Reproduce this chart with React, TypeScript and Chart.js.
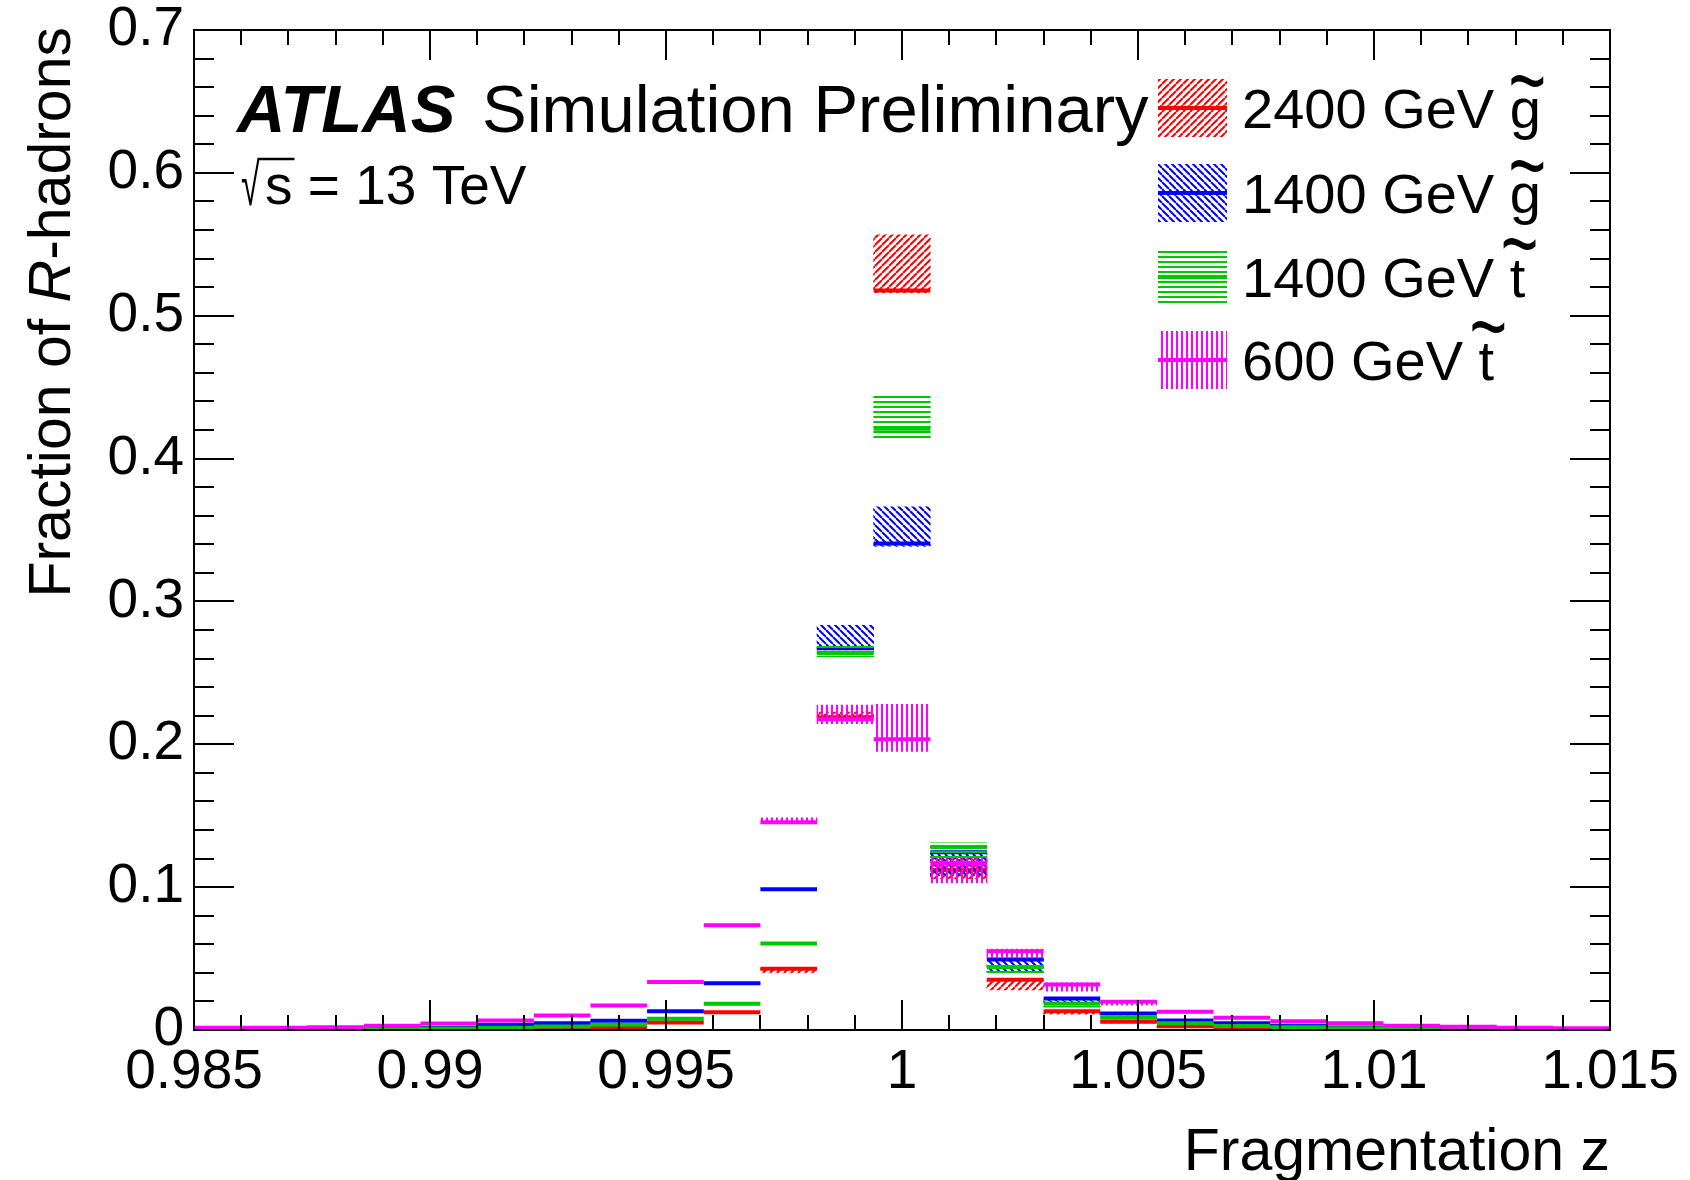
import React, { useEffect, useRef } from "react";
import { Chart, registerables } from "chart.js";

Chart.register(...registerables);

const FONT = "'Liberation Sans', Arial, Helvetica, sans-serif";

// ---- data ----
const BIN_EDGES = [
  0.985, 0.9862, 0.9874, 0.9886, 0.9898, 0.991, 0.9922, 0.9934, 0.9946, 0.9958,
  0.997, 0.9982, 0.9994, 1.0006, 1.0018, 1.003, 1.0042, 1.0054, 1.0066, 1.0078,
  1.009, 1.0102, 1.0114, 1.0126, 1.0138, 1.015,
];

const X_TICKS = [0.985, 0.99, 0.995, 1, 1.005, 1.01, 1.015];
const X_TICK_LABELS = ["0.985", "0.99", "0.995", "1", "1.005", "1.01", "1.015"];
const Y_TICKS = [0, 0.1, 0.2, 0.3, 0.4, 0.5, 0.6, 0.7];
const Y_TICK_LABELS = ["0", "0.1", "0.2", "0.3", "0.4", "0.5", "0.6", "0.7"];

const X_TITLE = "Fragmentation z";
const Y_TITLE_PARTS = [
  { text: "Fraction of ", italic: false },
  { text: "R", italic: true },
  { text: "-hadrons", italic: false },
];
const ATLAS_LABEL = "ATLAS";
const ATLAS_SUFFIX = "Simulation Preliminary";
const SQRT_SIGN = "\u221A";
const ENERGY_TEXT = "s = 13 TeV";

const SERIES_LABELS = ["2400 GeV g\u0303", "1400 GeV g\u0303", "1400 GeV t\u0303", "600 GeV t\u0303"];
const SERIES_COLORS = ["#ff0000", "#0000ff", "#00c800", "#ff00ff"];
const SERIES_HATCH = ["fwd", "back", "horiz", "vert"];

const GLUINO_2400 = [0.0001, 0.0001, 0.0001, 0.0002, 0.0003, 0.0005, 0.0008, 0.0019, 0.0052, 0.0124, 0.0428, 0.219, 0.5176, 0.112, 0.0351, 0.0131, 0.0057, 0.0026, 0.001, 0.0005, 0.0003, 0.0002, 0.0001, 0.0001, 0.0001];
const GLUINO_2400_LO = [0.0001, 0.0001, 0.0001, 0.0002, 0.0003, 0.0005, 0.0008, 0.0017, 0.0048, 0.0115, 0.04, 0.218, 0.5162, 0.106, 0.028, 0.011, 0.005, 0.0022, 0.0008, 0.0004, 0.0003, 0.0002, 0.0001, 0.0001, 0.0001];
const GLUINO_2400_HI = [0.0001, 0.0001, 0.0001, 0.0002, 0.0003, 0.0005, 0.0008, 0.0019, 0.0052, 0.0124, 0.0428, 0.2225, 0.5566, 0.121, 0.0353, 0.0131, 0.0057, 0.0026, 0.001, 0.0005, 0.0003, 0.0002, 0.0001, 0.0001, 0.0001];

const GLUINO_1400 = [0.0002, 0.0003, 0.0005, 0.0008, 0.0015, 0.0036, 0.0047, 0.0064, 0.0131, 0.0327, 0.0985, 0.2672, 0.3405, 0.1244, 0.0493, 0.022, 0.0115, 0.0066, 0.0048, 0.003, 0.0018, 0.001, 0.0006, 0.0004, 0.0002];
const GLUINO_1400_LO = [0.0002, 0.0003, 0.0005, 0.0008, 0.0015, 0.0036, 0.0047, 0.0064, 0.0131, 0.0327, 0.0985, 0.266, 0.3385, 0.108, 0.041, 0.0195, 0.0105, 0.0066, 0.0048, 0.003, 0.0018, 0.001, 0.0006, 0.0004, 0.0002];
const GLUINO_1400_HI = [0.0002, 0.0003, 0.0005, 0.0008, 0.0015, 0.0036, 0.0047, 0.0064, 0.0131, 0.0327, 0.0985, 0.2833, 0.3662, 0.125, 0.0497, 0.022, 0.0115, 0.0066, 0.0048, 0.003, 0.0018, 0.001, 0.0006, 0.0004, 0.0002];

const STOP_1400 = [0.0003, 0.0003, 0.0004, 0.0006, 0.001, 0.0015, 0.0024, 0.0036, 0.0078, 0.0183, 0.0605, 0.2637, 0.4209, 0.1281, 0.0441, 0.0183, 0.0085, 0.0047, 0.0028, 0.002, 0.0013, 0.0007, 0.0005, 0.0003, 0.0002];
const STOP_1400_LO = [0.0003, 0.0003, 0.0004, 0.0006, 0.001, 0.0015, 0.0024, 0.0036, 0.0078, 0.0183, 0.0605, 0.2614, 0.4129, 0.117, 0.0396, 0.016, 0.0085, 0.0047, 0.0028, 0.002, 0.0013, 0.0007, 0.0005, 0.0003, 0.0002];
const STOP_1400_HI = [0.0003, 0.0003, 0.0004, 0.0006, 0.001, 0.0015, 0.0024, 0.0036, 0.0078, 0.0183, 0.0605, 0.269, 0.4455, 0.131, 0.046, 0.0195, 0.0085, 0.0047, 0.0028, 0.002, 0.0013, 0.0007, 0.0005, 0.0003, 0.0002];

const STOP_600 = [0.0015, 0.0015, 0.0019, 0.0029, 0.0045, 0.0066, 0.0101, 0.0172, 0.0336, 0.0733, 0.1454, 0.2175, 0.2035, 0.1165, 0.0551, 0.0318, 0.0197, 0.0127, 0.0086, 0.0062, 0.0047, 0.0029, 0.0022, 0.0015, 0.0012];
const STOP_600_LO = [0.0015, 0.0015, 0.0019, 0.0029, 0.0045, 0.0066, 0.0101, 0.0172, 0.0336, 0.0733, 0.145, 0.2144, 0.195, 0.103, 0.0504, 0.0271, 0.0173, 0.012, 0.008, 0.0062, 0.0047, 0.0029, 0.0022, 0.0015, 0.0012];
const STOP_600_HI = [0.0015, 0.0015, 0.0019, 0.0029, 0.0045, 0.0066, 0.0101, 0.0172, 0.0336, 0.0733, 0.1485, 0.2275, 0.228, 0.12, 0.0567, 0.033, 0.0205, 0.013, 0.0088, 0.0062, 0.0047, 0.0029, 0.0022, 0.0015, 0.0012];

const SERIES_VALUES = [GLUINO_2400, GLUINO_1400, STOP_1400, STOP_600];
const SERIES_LO = [GLUINO_2400_LO, GLUINO_1400_LO, STOP_1400_LO, STOP_600_LO];
const SERIES_HI = [GLUINO_2400_HI, GLUINO_1400_HI, STOP_1400_HI, STOP_600_HI];

// ---- helpers ----
function makeHatch(kind: string, color: string): CanvasPattern {
  const c = document.createElement("canvas");
  const s = kind === "horiz" || kind === "vert" ? 5 : 7;
  c.width = s;
  c.height = s;
  const g = c.getContext("2d")!;
  g.strokeStyle = color;
  g.lineWidth = 2;
  g.beginPath();
  if (kind === "horiz") {
    g.moveTo(0, 2);
    g.lineTo(s, 2);
  } else if (kind === "vert") {
    g.moveTo(2, 0);
    g.lineTo(2, s);
  } else if (kind === "fwd") {
    for (const x0 of [-s, 0, s]) {
      g.moveTo(x0, s);
      g.lineTo(x0 + s, 0);
    }
  } else {
    for (const x0 of [-s, 0, s]) {
      g.moveTo(x0, 0);
      g.lineTo(x0 + s, s);
    }
  }
  g.stroke();
  const ctx = document.createElement("canvas").getContext("2d")!;
  return ctx.createPattern(c, "repeat")!;
}

function drawTildeLabel(ctx: CanvasRenderingContext2D, label: string, x: number, y: number, size: number) {
  ctx.font = `${size}px ${FONT}`;
  ctx.textAlign = "left";
  ctx.textBaseline = "alphabetic";
  let base = label;
  let tilde = false;
  if (label.endsWith("\u0303")) {
    base = label.slice(0, -1);
    tilde = true;
  }
  ctx.fillText(base, x, y);
  if (tilde) {
    const last = base.slice(-1);
    const before = base.slice(0, -1);
    const wb = ctx.measureText(before).width;
    const ml = ctx.measureText(last);
    const cx = x + wb + ml.width / 2 + 2;
    const asc = ml.actualBoundingBoxAscent;
    const tildeCenter = y - (asc + 0.2 * size);
    ctx.save();
    ctx.translate(cx, tildeCenter);
    ctx.scale(1.15, 1.7);
    ctx.textAlign = "center";
    ctx.textBaseline = "middle";
    ctx.fillText("~", 0, 0);
    ctx.restore();
  }
}

const framePlugin = {
  id: "rootFrame",
  afterDatasetsDraw(chart: any) {
    const { ctx, chartArea: a, scales } = chart;
    const xs = scales.x;
    const ys = scales.y;
    ctx.save();
    ctx.strokeStyle = "#000";
    ctx.lineWidth = 2;
    ctx.beginPath();
    const xMaj = xs.ticks.map((t: any) => t.value);
    const xStep = (xMaj[1] - xMaj[0]) / 5;
    for (let k = 0; ; k++) {
      const v = xs.min + k * xStep;
      if (v > xs.max + 1e-9) break;
      const px = Math.round(xs.getPixelForValue(v));
      const len = k % 5 === 0 ? 30 : 15;
      ctx.moveTo(px, a.bottom);
      ctx.lineTo(px, a.bottom - len);
      ctx.moveTo(px, a.top);
      ctx.lineTo(px, a.top + len);
    }
    const yMaj = ys.ticks.map((t: any) => t.value);
    const yStep = (yMaj[1] - yMaj[0]) / 5;
    for (let k = 0; ; k++) {
      const v = ys.min + k * yStep;
      if (v > ys.max + 1e-9) break;
      const py = Math.round(ys.getPixelForValue(v));
      const len = k % 5 === 0 ? 40 : 20;
      ctx.moveTo(a.left, py);
      ctx.lineTo(a.left + len, py);
      ctx.moveTo(a.right, py);
      ctx.lineTo(a.right - len, py);
    }
    ctx.stroke();
    ctx.strokeRect(a.left, a.top, a.right - a.left, a.bottom - a.top);
    ctx.restore();
  },
};

const makeTextPlugin = (patterns: CanvasPattern[]) => ({
  id: "rootText",
  afterDraw(chart: any) {
    const { ctx, chartArea: a } = chart;
    ctx.save();
    ctx.fillStyle = "#000";
    ctx.textBaseline = "alphabetic";
    ctx.textAlign = "left";

    // ATLAS label
    ctx.font = `italic bold 67px ${FONT}`;
    ctx.fillText(ATLAS_LABEL, 237, 132);
    ctx.font = `67px ${FONT}`;
    ctx.fillText(ATLAS_SUFFIX, 482, 132);

    // sqrt(s) = 13 TeV
    ctx.font = `55px ${FONT}`;
    const sq = ctx.measureText(SQRT_SIGN);
    ctx.save();
    ctx.translate(241, 205);
    ctx.scale(0.62, 1.08);
    ctx.fillText(SQRT_SIGN, 0, 0);
    ctx.restore();
    const sqTop = 205 - sq.actualBoundingBoxAscent * 1.08;
    ctx.fillText(ENERGY_TEXT, 265, 204);
    const sW = ctx.measureText(ENERGY_TEXT.slice(0, 1)).width;
    ctx.strokeStyle = "#000";
    ctx.lineWidth = 2.5;
    ctx.beginPath();
    ctx.moveTo(241 + sq.width * 0.62 - 2, sqTop + 1.5);
    ctx.lineTo(265 + sW + 2, sqTop + 1.5);
    ctx.stroke();

    // y title
    ctx.save();
    let total = 0;
    const widths: number[] = [];
    for (const p of Y_TITLE_PARTS) {
      ctx.font = `${p.italic ? "italic " : ""}59px ${FONT}`;
      const w = ctx.measureText(p.text).width;
      widths.push(w);
      total += w;
    }
    ctx.translate(70, a.top - 3 + total);
    ctx.rotate(-Math.PI / 2);
    let xp = 0;
    Y_TITLE_PARTS.forEach((p, i) => {
      ctx.font = `${p.italic ? "italic " : ""}59px ${FONT}`;
      ctx.fillText(p.text, xp, 0);
      xp += widths[i];
    });
    ctx.restore();

    // legend
    const boxL = 1158;
    const boxW = 69;
    const boxH = 58;
    const centers = [108, 193, 277, 360];
    SERIES_LABELS.forEach((label, i) => {
      const cy = centers[i];
      ctx.fillStyle = patterns[i];
      ctx.fillRect(boxL, cy - boxH / 2, boxW, boxH);
      ctx.strokeStyle = SERIES_COLORS[i];
      ctx.lineWidth = 4;
      ctx.beginPath();
      ctx.moveTo(boxL, cy);
      ctx.lineTo(boxL + boxW, cy);
      ctx.stroke();
      ctx.fillStyle = "#000";
      drawTildeLabel(ctx, label, 1242, cy + 20, 56);
    });
    ctx.restore();
  },
});

export default function App() {
  const ref = useRef<HTMLCanvasElement>(null);
  useEffect(() => {
    const canvas = ref.current!;
    const patterns = SERIES_HATCH.map((h, i) => makeHatch(h, SERIES_COLORS[i]));
    const datasets: any[] = [];
    SERIES_LABELS.forEach((label, si) => {
      const vals = SERIES_VALUES[si];
      const lo = SERIES_LO[si];
      const hi = SERIES_HI[si];
      datasets.push({
        type: "bar",
        label: label + " band",
        data: vals.map((_, i) => ({ x: (BIN_EDGES[i] + BIN_EDGES[i + 1]) / 2, y: [lo[i], hi[i]] })),
        backgroundColor: patterns[si],
        borderWidth: 0,
        barPercentage: 1,
        categoryPercentage: 1,
        grouped: false,
        order: (3 - si) * 2 + 1,
      });
      datasets.push({
        type: "line",
        label,
        data: vals.flatMap((v, i) => [
          { x: BIN_EDGES[i], y: v },
          { x: BIN_EDGES[i + 1], y: v },
          { x: BIN_EDGES[i + 1], y: null },
        ]),
        borderColor: SERIES_COLORS[si],
        backgroundColor: SERIES_COLORS[si],
        borderWidth: 4,
        pointRadius: 0,
        fill: false,
        spanGaps: false,
        tension: 0,
        order: (3 - si) * 2,
      });
    });

    const chart = new Chart(canvas, {
      type: "bar",
      data: { datasets },
      options: {
        animation: false,
        responsive: false,
        devicePixelRatio: 1,
        layout: { autoPadding: false, padding: { top: 30, right: 80, left: 0, bottom: 0 } },
        plugins: { legend: { display: false }, tooltip: { enabled: false } },
        scales: {
          x: {
            type: "linear",
            min: 0.985,
            max: 1.015,
            offset: false,
            grid: { display: false, drawTicks: false },
            border: { display: false },
            afterBuildTicks: (s: any) => {
              s.ticks = X_TICKS.map((v) => ({ value: v }));
            },
            afterFit: (s: any) => {
              s.height = 150;
              s.paddingLeft = 0;
              s.paddingRight = 0;
              s.paddingTop = 0;
              s.paddingBottom = 0;
            },
            ticks: {
              autoSkip: false,
              maxRotation: 0,
              padding: 15,
              color: "#000",
              font: { family: FONT, size: 55, lineHeight: 1 },
              callback: (_v: any, i: number) => X_TICK_LABELS[i],
            },
            title: {
              display: true,
              text: X_TITLE,
              align: "end",
              color: "#000",
              padding: 0,
              font: { family: FONT, size: 59, lineHeight: 0.9 },
            },
          },
          y: {
            type: "linear",
            min: 0,
            max: 0.7,
            grid: { display: false, drawTicks: false },
            border: { display: false },
            afterBuildTicks: (s: any) => {
              s.ticks = Y_TICKS.map((v) => ({ value: v }));
            },
            afterFit: (s: any) => {
              s.width = 194;
              s.paddingLeft = 0;
              s.paddingRight = 0;
              s.paddingTop = 0;
              s.paddingBottom = 0;
            },
            ticks: {
              padding: 10,
              color: "#000",
              font: { family: FONT, size: 55, lineHeight: 1 },
              callback: (_v: any, i: number) => Y_TICK_LABELS[i],
            },
          },
        },
      } as any,
      plugins: [framePlugin, makeTextPlugin(patterns)],
    });
    return () => chart.destroy();
  }, []);

  return (
    <div style={{ position: "fixed", left: 0, top: 0, width: 1690, height: 1180, background: "#fff" }}>
      <canvas ref={ref} width={1690} height={1180} style={{ display: "block" }} />
    </div>
  );
}
